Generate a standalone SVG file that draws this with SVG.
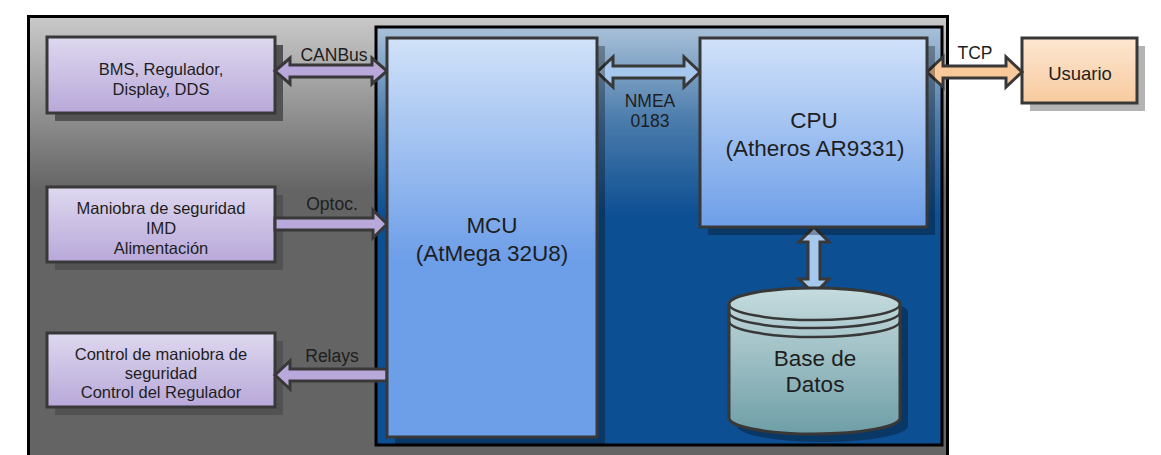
<svg xmlns="http://www.w3.org/2000/svg" width="1161" height="455" viewBox="0 0 1161 455">
<defs>
<linearGradient id="gGray" gradientUnits="userSpaceOnUse" x1="0" y1="17" x2="0" y2="190"><stop offset="0" stop-color="#c9c9c9"/><stop offset="1" stop-color="#646464"/></linearGradient>
<linearGradient id="gBlue" gradientUnits="userSpaceOnUse" x1="0" y1="27" x2="0" y2="215"><stop offset="0" stop-color="#a9c1d9"/><stop offset="0.5" stop-color="#4a7bab"/><stop offset="1" stop-color="#0d4f93"/></linearGradient>
<linearGradient id="gMcu" gradientUnits="userSpaceOnUse" x1="0" y1="38" x2="0" y2="260"><stop offset="0" stop-color="#d1e2f9"/><stop offset="1" stop-color="#6d9ee8"/></linearGradient>
<linearGradient id="gCpu" gradientUnits="userSpaceOnUse" x1="0" y1="38" x2="0" y2="227"><stop offset="0" stop-color="#d1e2f9"/><stop offset="1" stop-color="#6d9ee8"/></linearGradient>
<linearGradient id="gPur" x1="0" y1="0" x2="0" y2="1"><stop offset="0" stop-color="#ded8ef"/><stop offset="1" stop-color="#b8a8d9"/></linearGradient>
<linearGradient id="gOr" x1="0" y1="0" x2="0" y2="1"><stop offset="0" stop-color="#fde7d2"/><stop offset="1" stop-color="#f7ca9e"/></linearGradient>
<linearGradient id="gDb" gradientUnits="userSpaceOnUse" x1="0" y1="288" x2="0" y2="434"><stop offset="0" stop-color="#c6dcde"/><stop offset="1" stop-color="#6f9ea7"/></linearGradient>
</defs>
<style>
.box{stroke:#383838;stroke-width:3}
.pur{fill:url(#gPur)}
.t{font-family:"Liberation Sans",Arial,sans-serif;fill:#1e1e1e;text-anchor:middle}
.s16{font-size:16.5px}
.s17{font-size:17.5px}
.s21{font-size:22.5px}
.arr{stroke:#383838;stroke-width:3;stroke-linejoin:miter}
.shG{fill:#525252}
.shB{fill:#000;fill-opacity:0.3}
</style>
<rect width="1161" height="455" fill="#ffffff"/>
<g id="outer">
<rect x="28.5" y="16.5" width="919" height="460" fill="url(#gGray)" stroke="#000" stroke-width="3"/>
</g>
<g id="inner">
<rect x="376" y="27" width="566" height="418" fill="url(#gBlue)" stroke="#000" stroke-width="3"/>
</g>
<g id="bms">
<rect x="55" y="45" width="228" height="76" class="shG"/>
<rect x="47" y="37" width="228" height="76" class="box pur"/>
<text class="t s16" x="161" y="75">BMS, Regulador,</text>
<text class="t s16" x="161" y="95">Display, DDS</text>
</g>
<g id="maniobra">
<rect x="55" y="195" width="228" height="75" class="shG"/>
<rect x="47" y="187" width="228" height="75" class="box pur"/>
<text class="t s16" x="161" y="214">Maniobra de seguridad</text>
<text class="t s16" x="161" y="234">IMD</text>
<text class="t s16" x="161" y="254">Alimentación</text>
</g>
<g id="control">
<rect x="55" y="341" width="228" height="74" class="shG"/>
<rect x="47" y="333" width="228" height="74" class="box pur"/>
<text class="t s16" x="161" y="360">Control de maniobra de</text>
<text class="t s16" x="161" y="379">seguridad</text>
<text class="t s16" x="161" y="398">Control del Regulador</text>
</g>
<g id="usuario">
<rect x="1030" y="46" width="115" height="65" fill="#b4b4b4"/>
<rect x="1022" y="38" width="115" height="65" class="box" fill="url(#gOr)"/>
<text class="t" style="font-size:18.5px" x="1080" y="80">Usuario</text>
</g>
<g id="connectors">
<path class="arr" fill="#b9a9da" d="M275,71 L290,58 L290,65 L372,65 L372,58 L387,71 L372,84 L372,77 L290,77 L290,84 Z"/>
<path class="arr" fill="#b9a9da" d="M275,218 L373,218 L373,210 L387,224 L373,238 L373,230 L275,230 Z"/>
<path class="arr" fill="#b9a9da" d="M387,369 L290,369 L290,361 L275,375 L290,389 L290,381 L387,381 Z"/>
<path class="arr" fill="#a6c8ec" d="M597,72 L613,57 L613,66 L684,66 L684,57 L700,72 L684,87 L684,78 L613,78 L613,87 Z"/>
<path class="arr" fill="#f9c99b" d="M927,72 L943,57 L943,66 L1006,66 L1006,57 L1022,72 L1006,87 L1006,78 L943,78 L943,87 Z"/>
<path class="arr" fill="#a6c8ec" d="M814,227 L829,242 L820,242 L820,279 L829,279 L814,294 L799,279 L808,279 L808,242 L799,242 Z"/>
<text class="t s17" x="334" y="61">CANBus</text>
<text class="t s17" x="332" y="210">Optoc.</text>
<text class="t s17" x="332" y="362">Relays</text>
<text class="t s17" x="650" y="107">NMEA</text>
<text class="t s17" x="650" y="127">0183</text>
<text class="t s17" x="975" y="59">TCP</text>
</g>
<g id="mcu">
<rect x="395" y="46" width="210" height="399" class="shB"/>
<rect x="387" y="38" width="210" height="399" class="box" fill="url(#gMcu)"/>
<text class="t s21" x="492" y="233">MCU</text>
<text class="t s21" x="492" y="261">(AtMega 32U8)</text>
</g>
<g id="cpu">
<rect x="708" y="46" width="227" height="189" class="shB"/>
<rect x="700" y="38" width="227" height="189" class="box" fill="url(#gCpu)"/>
<text class="t s21" x="814" y="128">CPU</text>
<text class="t s21" x="815" y="156">(Atheros AR9331)</text>
</g>
<g id="basedatos">
<path class="shB" d="M737,312 A85.5,16 0 0 1 908,312 L908,426 A85.5,16 0 0 1 737,426 Z"/>
<path class="box" fill="url(#gDb)" d="M729,304 A85.5,16 0 0 1 900,304 L900,418 A85.5,16 0 0 1 729,418 Z"/>
<path fill="none" stroke="#383838" stroke-width="2.5" d="M729,304 A85.5,16 0 0 0 900,304 M729,312 A85.5,16 0 0 0 900,312 M729,321 A85.5,16 0 0 0 900,321"/>
<text class="t s21" x="815" y="366">Base de</text>
<text class="t s21" x="815" y="392">Datos</text>
</g>
</svg>
